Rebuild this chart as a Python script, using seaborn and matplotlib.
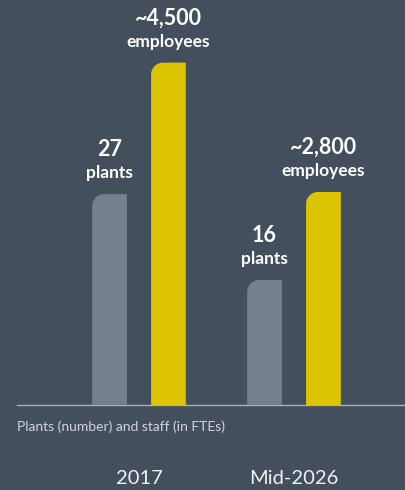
import numpy as np
import pandas as pd
import seaborn as sns
import matplotlib.pyplot as plt
from matplotlib.colors import to_rgba
from matplotlib.path import Path
from matplotlib.patches import PathPatch
from matplotlib.transforms import IdentityTransform

# ---- data ----
categories = ["2017", "Mid-2026"]
plants = [27, 16]
employees = [4500, 2800]
plant_numbers = ["27", "16"]
employee_numbers = ["~4,500", "~2,800"]
plant_unit = "plants"
employee_unit = "employees"
subtitle = "Plants (number) and staff (in FTEs)"
series_order = ["plants", "employees"]

# ---- style ----
BG = "#434f5c"
GRAY = "#75808c"
YELLOW = "#dcc400"
AXIS = "#a7b0b9"
SUB = "#d0d5da"
FONT = ["Lato", "DejaVu Sans"]

sns.set_theme(style="white")
plt.rcParams["font.family"] = FONT

df = pd.DataFrame({
    "period": categories * 2,
    "series": ["plants"] * len(categories) + ["employees"] * len(categories),
    "value": plants + employees,
})

W, H = 406, 490
fig = plt.figure(figsize=(W / 100, H / 100), dpi=100)
fig.patch.set_facecolor(BG)
ax = fig.add_axes([17 / W, 85 / H, 388 / W, 385 / H])
ax.set_facecolor(BG)
ax2 = ax.twinx()

palette = {"plants": GRAY, "employees": YELLOW}
for a in (ax, ax2):
    sns.barplot(data=df, x="period", y="value", hue="series",
                hue_order=series_order, order=categories, palette=palette,
                width=0.76, gap=0.41, ax=a, legend=False, saturation=1,
                errorbar=None)

ax.set_xlim(-0.787, 1.716)
ax.set_ylim(0, 49.3)
ax2.set_ylim(0, 5060)

for a in (ax, ax2):
    a.set_ylabel("")
    a.set_xlabel("")
    a.set_yticks([])
    for s in ("top", "right", "left"):
        a.spines[s].set_visible(False)
ax2.spines["bottom"].set_visible(False)
ax.spines["bottom"].set_color(AXIS)
ax.spines["bottom"].set_linewidth(1.0)
ax2.patch.set_visible(False)

ax.tick_params(axis="x", length=0, pad=47, labelsize=14.5, labelcolor="#eef0f2")
ax2.tick_params(axis="x", length=0)

fig.canvas.draw()

# rounded top-left corner bars; keep only this axis' series
R = 12
K = 0.5523
def rounded(a, keep_color):
    kept = []
    for p in list(a.patches):
        fc = p.get_facecolor()
        x0, y0 = p.get_x(), p.get_y()
        w, h = p.get_width(), p.get_height()
        p.remove()
        if not np.allclose(fc, to_rgba(keep_color), atol=0.01):
            continue
        (X0, Y0) = a.transData.transform((x0, y0))
        (X1, Y1) = a.transData.transform((x0 + w, y0 + h))
        verts = [(X0, Y0), (X0, Y1 - R),
                 (X0, Y1 - R + K * R), (X0 + R - K * R, Y1), (X0 + R, Y1),
                 (X1, Y1), (X1, Y0), (X0, Y0)]
        codes = [Path.MOVETO, Path.LINETO,
                 Path.CURVE4, Path.CURVE4, Path.CURVE4,
                 Path.LINETO, Path.LINETO, Path.CLOSEPOLY]
        pp = PathPatch(Path(verts, codes), facecolor=fc, edgecolor="none",
                       transform=IdentityTransform(), zorder=2)
        fig.add_artist(pp)
        kept.append((x0 + w / 2, h))
    return sorted(kept)

plant_bars = rounded(ax, GRAY)
emp_bars = rounded(ax2, YELLOW)

def label(a, bars, nums, unit):
    for (xc, h), n in zip(bars, nums):
        a.annotate(unit, (xc, h), xytext=(0, 16), textcoords="offset pixels",
                   ha="center", va="baseline", fontsize=12.5, fontweight="bold",
                   color="white")
        a.annotate(n, (xc, h), xytext=(0, 38), textcoords="offset pixels",
                   ha="center", va="baseline", fontsize=15.5, fontweight="bold",
                   color="white")

label(ax, plant_bars, plant_numbers, plant_unit)
label(ax2, emp_bars, employee_numbers, employee_unit)

fig.text(17 / W, 1 - 427 / H, subtitle, ha="left", va="center", fontsize=10,
         color=SUB)

fig.savefig("out.png", dpi=100, facecolor=BG)
